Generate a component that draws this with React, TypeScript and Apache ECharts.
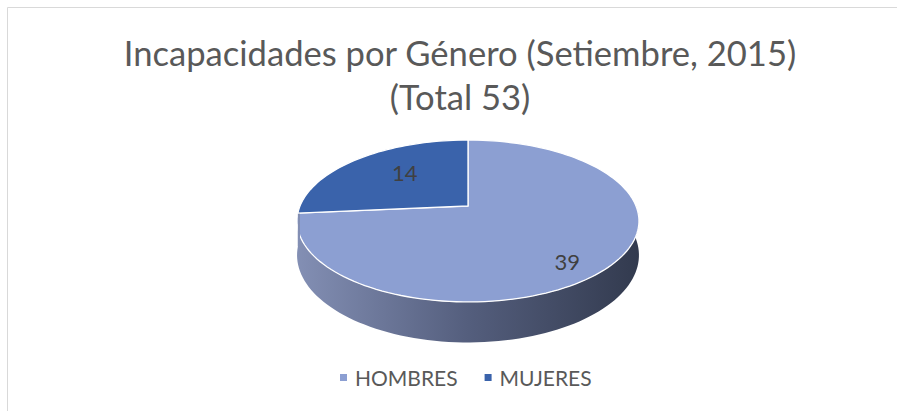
import React, { useEffect, useRef } from "react";
import * as echarts from "echarts";

const categories = ["HOMBRES", "MUJERES"];
const values = [39, 14];
const titleLines = ["Incapacidades por Género (Setiembre, 2015)", "(Total 53)"];

const topColors = ["#8c9fd2", "#3a63ab"];
const labelRadius = [0.82, 0.625];
const labelAngleShift = [-8, -6.7];

// perspective projection of a unit circle (tilted pie)
const CX = 468;
const CY = 206;
const AY = 78.2;
const BX = 168;
const K = -0.185;
const DEPTH = 33;

function proj(u: number, v: number): [number, number] {
  const f = 1 + K * v;
  return [CX + (BX * u) / f, CY + (AY * v) / f];
}
function depthAt(v: number) {
  return DEPTH / (1 + K * v);
}

const total = values.reduce((a, b) => a + b, 0);
// slices start at top (90deg) going clockwise
const sliceAngles = (() => {
  let start = 90;
  return values.map((v) => {
    const sweep = (v / total) * 360;
    const a = { from: start - sweep, to: start };
    start -= sweep;
    return a;
  });
})();

function arcPoints(fromDeg: number, toDeg: number, bottom: boolean) {
  const pts: number[][] = [];
  const n = Math.max(2, Math.ceil(Math.abs(toDeg - fromDeg) / 2));
  for (let i = 0; i <= n; i++) {
    const a = ((fromDeg + ((toDeg - fromDeg) * i) / n) * Math.PI) / 180;
    const u = Math.cos(a);
    const v = -Math.sin(a);
    const p = proj(u, v);
    if (bottom) p[1] += depthAt(v);
    pts.push(p);
  }
  return pts;
}

function makeRenderItem(idx: number) {
  return (params: any, api: any) => {
    const val = api.value(0);
    const { from, to } = sliceAngles[idx];
    const children: any[] = [];
    const norm = (d: number) => ((d % 360) + 360) % 360;
    let f = from;
    let t = to;
    const shift = norm(f) - f;
    f += shift;
    t += shift;
    const segs: [number, number][] = [];
    for (const base of [0, 360]) {
      const s = Math.max(f, 180 + base);
      const e = Math.min(t, 360 + base);
      if (e > s) segs.push([s, e]);
    }
    const grad = new echarts.graphic.LinearGradient(
      297,
      0,
      640,
      0,
      [
        { offset: 0, color: "#838fb4" },
        { offset: 0.5, color: "#545e7d" },
        { offset: 1, color: "#323a4e" },
      ],
      true
    );
    segs.forEach(([s, e]) => {
      const top = arcPoints(s, e, false);
      const bot = arcPoints(s, e, true).reverse();
      children.push({
        type: "polygon",
        shape: { points: top.concat(bot) },
        style: { fill: grad, stroke: null },
      });
    });
    const topPts = [proj(0, 0)].concat(arcPoints(from, to, false));
    children.push({
      type: "polygon",
      shape: { points: topPts },
      style: { fill: topColors[idx], stroke: "#ffffff", lineWidth: 1.3 },
    });
    const mid = (((from + to) / 2 + labelAngleShift[idx]) * Math.PI) / 180;
    const r = labelRadius[idx];
    const lp = proj(r * Math.cos(mid), -r * Math.sin(mid));
    children.push({
      type: "text",
      x: lp[0],
      y: lp[1],
      style: {
        text: String(val),
        fill: "#404040",
        fontSize: 22,
        fontFamily: "Lato",
        align: "center",
        verticalAlign: "middle",
      },
    });
    return { type: "group", children };
  };
}

export default function App() {
  const ref = useRef<HTMLDivElement>(null);
  useEffect(() => {
    document.body.style.margin = "0";
    const chart = echarts.init(ref.current!, undefined, { renderer: "svg" });
    chart.setOption({
      animation: false,
      backgroundColor: "#ffffff",
      title: {
        text: titleLines.join("\n"),
        left: 455,
        textAlign: "center",
        top: 25,
        textStyle: {
          fontFamily: "Lato",
          fontSize: 34.6,
          fontWeight: "normal",
          color: "#595959",
          lineHeight: 44,
        },
      },
      legend: {
        data: categories,
        bottom: 18,
        left: 335,
        icon: "rect",
        itemWidth: 7,
        itemHeight: 7,
        itemGap: 27,
        textStyle: {
          fontFamily: "Lato",
          fontSize: 21,
          color: "#595959",
          padding: [0, 0, 0, 3],
        },
      },
      graphic: [
        {
          type: "rect",
          shape: { x: 7.5, y: 7.5, width: 1000, height: 1000 },
          style: { fill: "none", stroke: "#d9d9d9", lineWidth: 1 },
          silent: true,
        },
      ],
      series: categories.map((name, idx) => ({
        type: "custom",
        name,
        coordinateSystem: "none",
        silent: true,
        itemStyle: { color: topColors[idx] },
        data: [[values[idx]]],
        renderItem: makeRenderItem(idx),
      })),
    });
    return () => chart.dispose();
  }, []);
  return <div ref={ref} style={{ width: 897, height: 411 }} />;
}
